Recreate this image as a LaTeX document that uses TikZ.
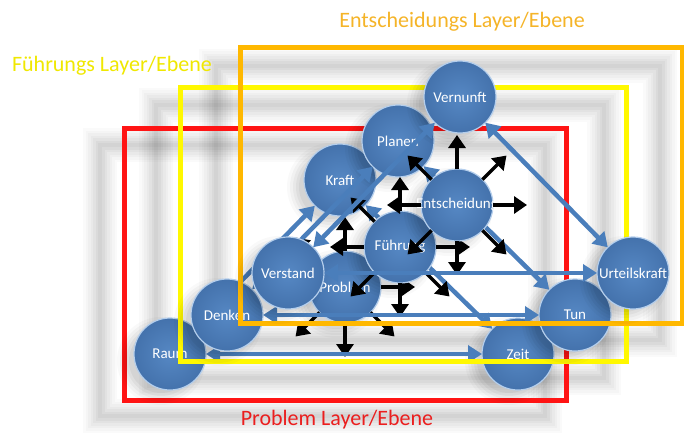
\documentclass[tikz,border=0pt]{standalone}
\usepackage{fontspec}
\setmainfont{Carlito}
\usetikzlibrary{arrows.meta,calc}
\definecolor{ballin}{RGB}{86,136,196}
\definecolor{ballout}{RGB}{68,114,172}
\definecolor{ballrim}{RGB}{180,206,236}
\definecolor{arrblue}{RGB}{74,126,187}
\definecolor{redfr}{RGB}{255,20,20}
\definecolor{yellowfr}{RGB}{255,248,0}
\definecolor{orangefr}{RGB}{255,184,0}
\definecolor{lblorange}{RGB}{245,180,40}
\definecolor{lblyellow}{RGB}{240,232,0}
\definecolor{lblred}{RGB}{235,30,30}
\newcommand\mkballshadow[2]{%
  \foreach \rr/\oo in {44/0.025,41/0.03,38/0.035,35/0.04,32/0.045}{\fill[black,opacity=\oo] (#1-9,#2+7) circle[radius=\rr pt];}}
\newcommand\mkframeshadow[4]{%
  \foreach \ww/\oo in {34/0.018,29/0.02,24/0.022,19/0.025,14/0.028,9/0.03,4/0.03}{\draw[black,opacity=\oo,line width=\ww pt] (#1,#2) rectangle (#3,#4);}}
\newcommand\radiate[1]{%
  \foreach \a in {0,45,...,315}{\coordinate (#1-t\a) at ($(#1)+(\a:70pt)$); \draw[blackarr] (#1.\a) -- (#1-t\a);}}
\begin{document}
\begin{tikzpicture}[x=1pt,y=-1pt,
  ball/.style={circle, minimum size=72pt, inner sep=-6pt, outer sep=0pt, draw=ballrim, line width=1.2pt,
    inner color=ballin, outer color=ballout, text=white, font=\fontsize{15}{17}\selectfont},
  bluearr/.style={draw=arrblue, line width=4.5pt, arrows={Triangle[length=14pt,width=17pt]-Triangle[length=14pt,width=17pt]}},
  blackarr/.style={draw=black, line width=3.5pt, arrows={-Triangle[length=13pt,width=17pt]}},
  frame/.style={line width=5pt},
  lbl/.style={font=\fontsize{22}{24}\selectfont}]
\useasboundingbox (0,0) rectangle (684,433);
\fill[white] (0,0) rectangle (684,433);
% frame shadows
\mkframeshadow{100}{145}{545}{416}
\mkframeshadow{156}{105}{604}{378}
\mkframeshadow{216}{66}{660}{340}
% ---------- Problem layer ----------
\draw[frame, redfr] (124,128) rectangle (566,400);
\mkballshadow{170}{354}
\mkballshadow{340}{180}
\mkballshadow{518}{354}
\mkballshadow{345}{287}
\node[ball] (raum) at (170,354) {Raum};
\node[ball] (kraft) at (340,180) {Kraft};
\node[ball] (zeit) at (518,354) {Zeit};
\node[ball] (problem) at (345,287) {Problem};
\radiate{problem}
\draw[bluearr] (raum) -- (zeit);
\draw[bluearr] (raum) -- (kraft);
\draw[bluearr] (kraft) -- (zeit);
% ---------- Fuehrung layer ----------
\draw[frame, yellowfr] (180,88) rectangle (626,361);
\mkballshadow{227}{315}
\mkballshadow{398}{141}
\mkballshadow{575}{315}
\mkballshadow{400}{247}
\node[ball] (denken) at (227,315) {Denken};
\node[ball] (planen) at (398,141) {Planen};
\node[ball] (tun) at (575,315) {Tun};
\node[ball] (fuehrung) at (400,247) {Führung};
\radiate{fuehrung}
\draw[bluearr] (denken) -- (tun);
\draw[bluearr] (denken) -- (planen);
\draw[bluearr] (planen) -- (tun);
% ---------- Entscheidung layer ----------
\draw[frame, orangefr] (240,48) rectangle (682,323);
\mkballshadow{288}{273}
\mkballshadow{460}{97}
\mkballshadow{633}{273}
\mkballshadow{457}{205}
\node[ball] (verstand) at (288,273) {Verstand};
\node[ball] (vernunft) at (460,97) {Vernunft};
\node[ball] (urteil) at (633,273) {Urteilskraft};
\node[ball] (entsch) at (457,205) {Entscheidung};
\radiate{entsch}
\draw[bluearr] (verstand) -- (urteil);
\draw[bluearr] (verstand) -- (vernunft);
\draw[bluearr] (vernunft) -- (urteil);
% ---------- labels ----------
\node[lbl, text=lblorange] (lblE) at (462,22) {Entscheidungs Layer/Ebene};
\node[lbl, text=lblyellow] (lblF) at (112,66) {Führungs Layer/Ebene};
\node[lbl, text=lblred] (lblP) at (337,420) {Problem Layer/Ebene};
\end{tikzpicture}
\end{document}
